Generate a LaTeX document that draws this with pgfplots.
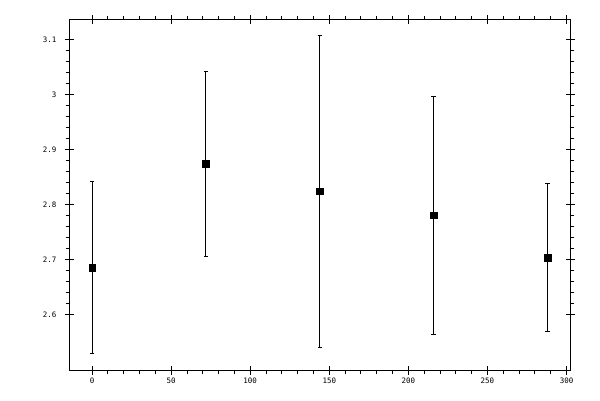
\documentclass[border=0pt]{standalone}
\usepackage{fontspec}
\setmonofont{DejaVu Sans Mono}
\usepackage{pgfplots}
\pgfplotsset{compat=1.18}
\begin{document}
\begin{tikzpicture}[x=1bp,y=1bp]
\useasboundingbox (-69.3,-30) rectangle (530.7,370);
\begin{axis}[
  at={(0,0)}, anchor=south west,
  scale only axis, width=501bp, height=350.7bp,
  xmin=-14.4, xmax=302.4, ymin=2.4995, ymax=3.1365,
  axis line style={line width=0.9bp},
  every tick/.style={line width=0.9bp, black},
  xtick={0,50,100,150,200,250,300},
  ytick={2.6,2.7,2.8,2.9,3,3.1},
  minor x tick num=4, minor y tick num=4,
  tick align=outside, tick pos=both, ticklabel pos=left,
  major tick length=4.5bp, minor tick length=3.5bp,
  extra x ticks={0,50,100,150,200,250,300}, extra x tick labels={},
  extra y ticks={2.6,2.7,2.8,2.9,3,3.1}, extra y tick labels={},
  extra tick style={tick align=inside, major tick length=4.5bp},
  /pgf/number format/assume math mode=true,
  tick label style={font=\ttfamily\fontsize{7.5}{8}\selectfont},
  yticklabel style={xshift=-5bp},
]
\addplot[only marks, mark=square*, mark size=3.3bp, black,
  error bars/.cd, y dir=both, y explicit,
  error bar style={line width=0.9bp, black},
  error mark options={rotate=90, mark size=2.3bp, line width=0.9bp, black}]
  table[x=x, y=y, y error=e] {
x y e
0 2.6855 0.156
72 2.8745 0.168
144 2.824 0.2835
216 2.7806 0.216
288 2.7036 0.134
};
\end{axis}
\end{tikzpicture}
\end{document}
